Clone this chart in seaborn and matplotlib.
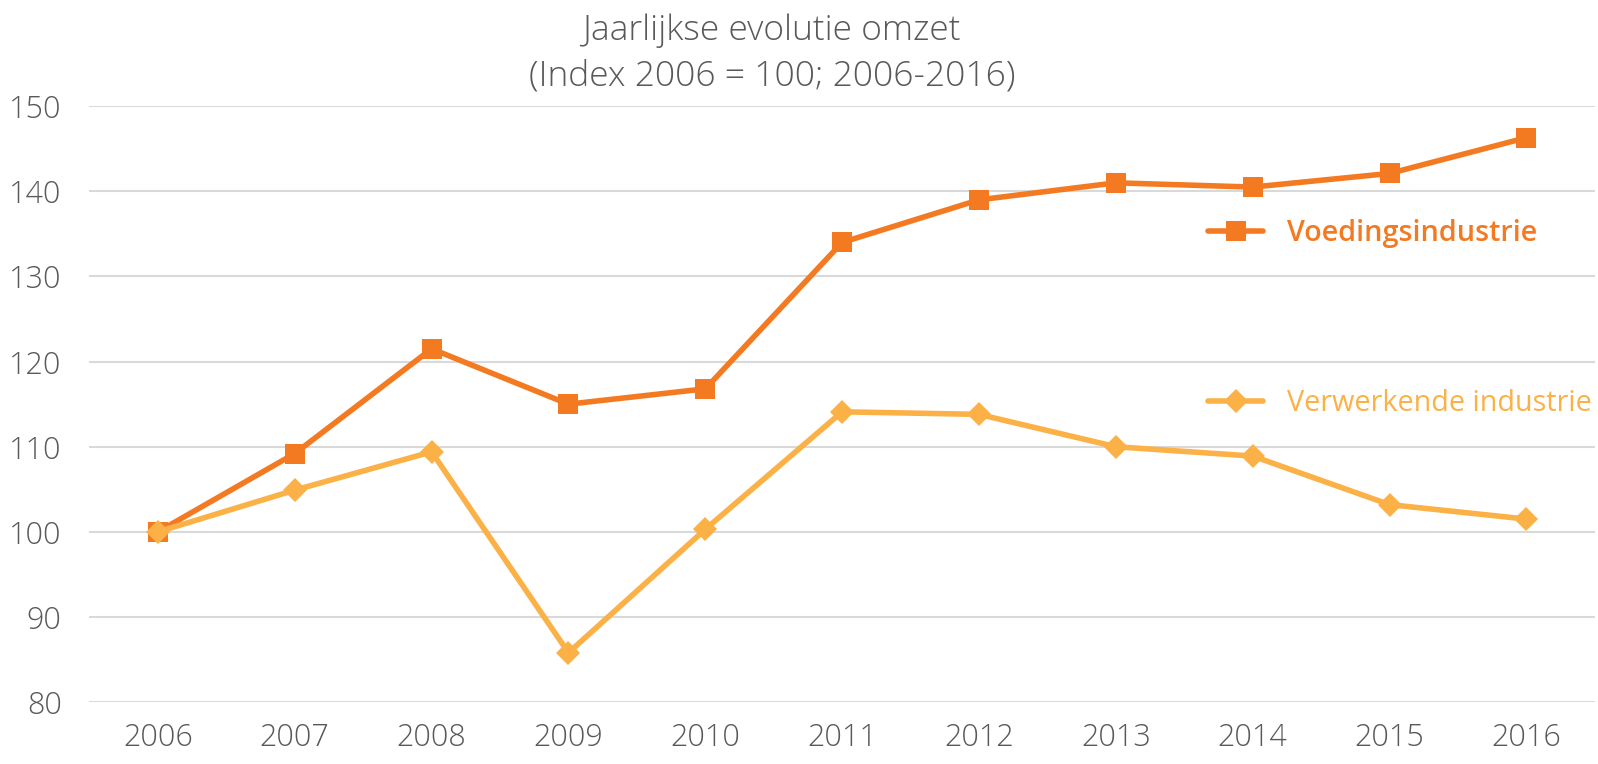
import pandas as pd
import numpy as np
import matplotlib
matplotlib.use("Agg")
import matplotlib.pyplot as plt
import seaborn as sns

years = [2006, 2007, 2008, 2009, 2010, 2011, 2012, 2013, 2014, 2015, 2016]
voeding = [100.0, 109.2, 121.5, 115.0, 116.8, 134.0, 139.0, 141.0, 140.5, 142.1, 146.3]
verwerkend = [100.0, 104.9, 109.4, 85.8, 100.3, 114.1, 113.8, 110.0, 108.9, 103.2, 101.5]
series_names = ["Voedingsindustrie", "Verwerkende industrie"]
colors = ["#F47A22", "#FBB146"]
yticks = [80, 90, 100, 110, 120, 130, 140, 150]

sns.set_theme(style="white")
plt.rcParams["font.family"] = ["Open Sans", "DejaVu Sans"]

df = pd.DataFrame({
    "jaar": years * 2,
    "index": voeding + verwerkend,
    "reeks": [series_names[0]] * len(years) + [series_names[1]] * len(years),
})

fig = plt.figure(figsize=(15.98, 7.64), dpi=100)
ax = fig.add_axes([0.056, 0.081, 0.942, 0.78])

for ax_grid in yticks:
    ax.axhline(ax_grid, color="#D9D9D9", lw=1.5, zorder=0)

sns.lineplot(data=df, x="jaar", y="index", hue="reeks", style="reeks",
             palette=colors, markers=["s", "D"], dashes=False,
             markersize=15, linewidth=4.0, markeredgewidth=0, ax=ax)

ax.set_xlim(2005.5, 2016.5)
ax.set_ylim(80, 150)
ax.set_yticks(yticks)
ax.set_xticks(years)
ax.set_xticklabels([str(y) for y in years])
ax.set_xlabel("")
ax.set_ylabel("")
for s in ax.spines.values():
    s.set_visible(False)
ax.tick_params(axis="both", length=0, labelsize=22, labelcolor="#595959")
ax.tick_params(axis="y", pad=20)
ax.tick_params(axis="x", pad=14)
for lab in ax.get_xticklabels() + ax.get_yticklabels():
    lab.set_fontweight("light")

# diamonds a bit smaller than squares
ax.lines[len(yticks) + 1].set_markersize(12)

handles, labels = ax.get_legend_handles_labels()
handles[0].set_markersize(15)
handles[1].set_markersize(12)
leg = ax.legend(handles, labels, loc="upper left", bbox_to_anchor=(0.74, 0.747),
                bbox_transform=fig.transFigure, frameon=False, fontsize=20.7,
                labelspacing=4.9, handlelength=1.9, handletextpad=0.85)
for txt, c in zip(leg.get_texts(), colors):
    txt.set_color(c)
leg.get_texts()[0].set_fontweight("semibold")

fig.text(0.483, 0.96, "Jaarlijkse evolutie omzet", ha="center", va="center",
         fontsize=25.5, color="#595959", fontweight="light")
fig.text(0.483, 0.9, "(Index 2006 = 100; 2006-2016)", ha="center", va="center",
         fontsize=25.5, color="#595959", fontweight="light")

fig.savefig("out.png", dpi=100)
